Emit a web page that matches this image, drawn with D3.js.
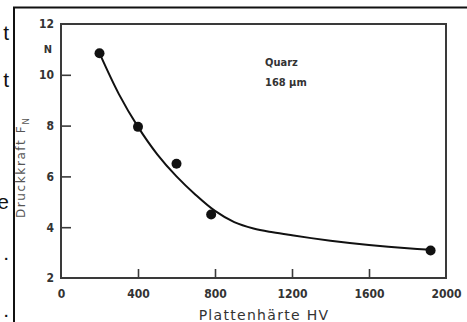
<!DOCTYPE html>
<html>
<head>
<meta charset="utf-8">
<script src="https://cdn.jsdelivr.net/npm/d3@7"></script>
<style>
  body { margin: 0; background: #fff; }
  svg { display: block; }
</style>
</head>
<body>
<div id="chart"></div>
<script>
// measured points (Plattenhaerte HV, Druckkraft N)
const hardness = [200, 400, 600, 780, 1920]
const force = [10.85, 7.95, 6.5, 4.5, 3.08]

// fitted curve
const curveHV = [200, 300, 400, 500, 600, 700, 800, 900, 1000, 1100, 1200, 1300, 1400, 1500, 1600, 1700, 1800, 1920]
const curveF = [10.85, 9.25, 7.95, 6.87, 6.0, 5.27, 4.64, 4.2, 3.95, 3.8, 3.68, 3.57, 3.47, 3.38, 3.3, 3.23, 3.17, 3.11]

const xTicks = [0, 400, 800, 1200, 1600, 2000]
const yTicks = [2, 4, 6, 8, 10, 12]

// fragments of the surrounding page text, cut by the scan
const edgeText = ["t", "t", "e", ".", "."]
const edgeY = [40, 87, 209, 260, 317]

const width = 467, height = 322
const margin = {top: 24, right: 21, bottom: 44, left: 61}

const svg = d3.select("#chart").append("svg")
    .attr("width", width)
    .attr("height", height)

// page fragments and scan border
svg.append("g")
    .selectAll("text")
    .data(edgeText)
    .join("text")
    .attr("x", 9)
    .attr("y", (d, i) => edgeY[i])
    .attr("text-anchor", "end")
    .style("font-family", "Liberation Sans, sans-serif")
    .style("font-size", "21px")
    .attr("fill", "#111")
    .text(d => d)

svg.append("path")
    .attr("d", `M14,${height} L14,7.5 L${width},7.5`)
    .attr("fill", "none")
    .attr("stroke", "#111")
    .attr("stroke-width", 2)

const xScale = d3.scaleLinear([0, 2000], [margin.left, width - margin.right])
const yScale = d3.scaleLinear([2, 12], [height - margin.bottom, margin.top])

const tickFont = "DejaVu Sans Condensed, DejaVu Sans, sans-serif"

// frame
svg.append("rect")
    .attr("x", margin.left)
    .attr("y", margin.top)
    .attr("width", width - margin.left - margin.right)
    .attr("height", height - margin.top - margin.bottom)
    .attr("fill", "none")
    .attr("stroke", "#3a3a3a")
    .attr("stroke-width", 2)

const xAxis = svg.append("g")
    .attr("transform", `translate(0,${height - margin.bottom})`)
    .call(d3.axisBottom(xScale).tickValues(xTicks).tickSize(-9).tickPadding(11).tickFormat(d3.format("d")))
xAxis.select(".domain").remove()

const yAxis = svg.append("g")
    .attr("transform", `translate(${margin.left},0)`)
    .call(d3.axisLeft(yScale).tickValues(yTicks).tickSize(-10).tickPadding(7).tickFormat(d3.format("d")))
yAxis.select(".domain").remove()

svg.selectAll(".tick line")
    .attr("stroke", "#3a3a3a")
    .attr("stroke-width", 1.6)
    .filter(d => d === 0 || d === 2000 || d === 2 || d === 12)
    .remove()

svg.selectAll(".tick text")
    .style("font-family", tickFont)
    .style("font-weight", "bold")
    .style("font-size", "12px")
    .attr("fill", "#333")

// unit under the top label
svg.append("text")
    .attr("x", margin.left - 13)
    .attr("y", yScale(11))
    .attr("dy", "0.35em")
    .attr("text-anchor", "middle")
    .style("font-family", tickFont)
    .style("font-weight", "bold")
    .style("font-size", "11px")
    .attr("fill", "#333")
    .text("N")

// axis titles
svg.append("text")
    .attr("x", 264)
    .attr("y", 320)
    .attr("text-anchor", "middle")
    .style("font-family", "DejaVu Sans, sans-serif")
    .style("font-size", "14px")
    .style("letter-spacing", "1.3px")
    .attr("fill", "#333")
    .text("Plattenhärte  HV")

const yTitle = svg.append("text")
    .attr("transform", "translate(25,218) rotate(-90)")
    .attr("text-anchor", "start")
    .style("font-family", "DejaVu Sans, sans-serif")
    .style("font-size", "12px")
    .style("letter-spacing", "1.6px")
    .attr("fill", "#555")
yTitle.append("tspan").text("Druckkraft  F")
yTitle.append("tspan").attr("dy", 4).style("font-size", "9px").text("N")

// annotation
const note = svg.append("g")
    .style("font-family", tickFont)
    .style("font-weight", "bold")
    .style("font-size", "11px")
    .attr("fill", "#333")
note.append("text").attr("x", 265).attr("y", 66).text("Quarz")
note.append("text").attr("x", 265).attr("y", 86).text("168 µm")

// curve
const line = d3.line()
    .x((d, i) => xScale(curveHV[i]))
    .y(d => yScale(d))
    .curve(d3.curveCatmullRom.alpha(0.5))

svg.append("path")
    .attr("d", line(curveF))
    .attr("fill", "none")
    .attr("stroke", "#111")
    .attr("stroke-width", 2)

// points
svg.append("g")
    .selectAll("circle")
    .data(force)
    .join("circle")
    .attr("cx", (d, i) => xScale(hardness[i]))
    .attr("cy", d => yScale(d))
    .attr("r", 5)
    .attr("fill", "#111")
</script>
</body>
</html>
